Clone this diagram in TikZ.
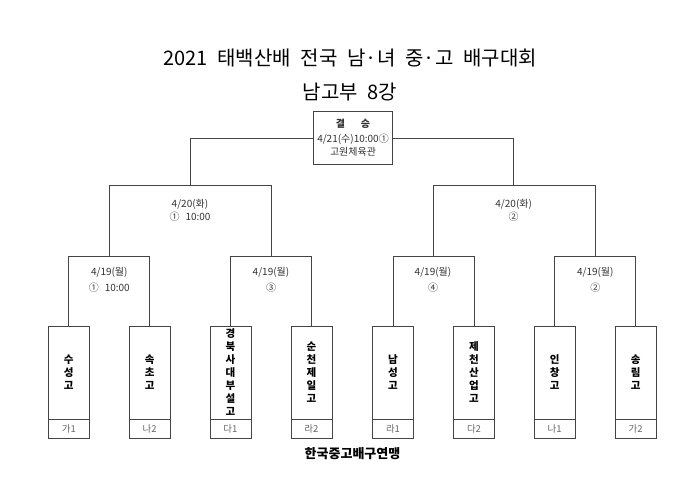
\documentclass[tikz,border=0pt]{standalone}
\usepackage{fontspec}
\setmainfont{Noto Sans CJK KR}
\newfontfamily\titlefont[WordSpace=2.2]{Noto Sans CJK KR}
\definecolor{linec}{HTML}{444444}
\definecolor{textc}{HTML}{333333}
\definecolor{tagc}{HTML}{666666}
\begin{document}
\begin{tikzpicture}[x=1pt,y=-1pt,
  team/.style={draw=linec, line width=0.8pt, minimum width=41pt, minimum height=93pt, inner sep=0pt,
    font=\bfseries\fontsize{10.5}{13}\selectfont, align=center},
  tag/.style={draw=linec, line width=0.8pt, minimum width=41pt, minimum height=19pt, inner sep=0pt,
    font=\fontsize{9.5}{10}\selectfont, text=tagc},
  wire/.style={draw=linec, line width=0.8pt},
  infoA/.style={font=\fontsize{10}{15.6}\selectfont, align=center, text=textc},
  infoB/.style={font=\fontsize{10}{13.4}\selectfont, align=center, text=textc},
  finalbox/.style={draw=linec, line width=0.8pt, minimum width=79.4pt, minimum height=52.3pt, inner sep=0pt,
    align=center, font=\fontsize{10}{13.4}\selectfont, text=textc},
  titlestyle/.style={font=\titlefont\fontsize{20}{24}\selectfont},
  footstyle/.style={font=\bfseries\fontsize{13}{15}\selectfont}
]
\useasboundingbox (0,0) rectangle (700,495);

% title
\node[titlestyle] (title1) at (350,58.3) {2021 태백산배 전국 남·녀 중·고 배구대회};
\node[titlestyle] (title2) at (350,91.7) {남고부 8강};

% teams
\node[team] (t1) at (68.8,372.5) {수\\성\\고};
\node[team] (t2) at (149.7,372.5) {속\\초\\고};
\node[team] (t3) at (230.5,372.5) {경\\북\\사\\대\\부\\설\\고};
\node[team] (t4) at (311.5,372.5) {순\\천\\제\\일\\고};
\node[team] (t5) at (393,372.5) {남\\성\\고};
\node[team] (t6) at (474,372.5) {제\\천\\산\\업\\고};
\node[team] (t7) at (554.7,372.5) {인\\창\\고};
\node[team] (t8) at (635.7,372.5) {송\\림\\고};

\node[tag] (l1) at (68.8,428.5) {가1};
\node[tag] (l2) at (149.7,428.5) {나2};
\node[tag] (l3) at (230.5,428.5) {다1};
\node[tag] (l4) at (311.5,428.5) {라2};
\node[tag] (l5) at (393,428.5) {라1};
\node[tag] (l6) at (474,428.5) {다2};
\node[tag] (l7) at (554.7,428.5) {나1};
\node[tag] (l8) at (635.7,428.5) {가2};

% final box
\node[finalbox] (f) at (353,137.9) {{\bfseries 결\hspace{1.6em}승}\\[1.2pt]4/21(수)10:00①\\고원체육관};

% bracket joints
\coordinate (m1) at (109.3,256.3);
\coordinate (m2) at (271,256.3);
\coordinate (m3) at (433,256.3);
\coordinate (m4) at (595.3,256.3);
\coordinate (q1) at (190,185.7);
\coordinate (q2) at (513.7,185.7);

\draw[wire] (t1.north) |- (m1) -| (t2.north);
\draw[wire] (t3.north) |- (m2) -| (t4.north);
\draw[wire] (t5.north) |- (m3) -| (t6.north);
\draw[wire] (t7.north) |- (m4) -| (t8.north);
\draw[wire] (m1) |- (q1) -| (m2);
\draw[wire] (m3) |- (q2) -| (m4);
\draw[wire] (q1) |- (f.west);
\draw[wire] (q2) |- (f.east);

% round info
\node[infoA] (r1) at (109.3,279.5) {4/19(월)\\①\hspace{0.6em}10:00};
\node[infoA] (r2) at (271,279.5) {4/19(월)\\③};
\node[infoA] (r3) at (433,279.5) {4/19(월)\\④};
\node[infoA] (r4) at (595.3,279.5) {4/19(월)\\②};
\node[infoB] (s1) at (190,210) {4/20(화)\\①\hspace{0.6em}10:00};
\node[infoB] (s2) at (513.7,210) {4/20(화)\\②};

% footer
\node[footstyle] (foot) at (352.5,453.3) {한국중고배구연맹};
\end{tikzpicture}
\end{document}
